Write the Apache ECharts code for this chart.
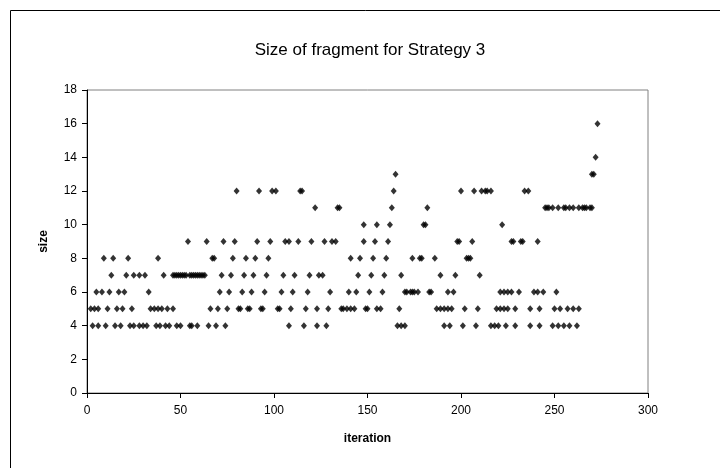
<!DOCTYPE html>
<html><head><meta charset="utf-8">
<script src="https://cdn.jsdelivr.net/npm/echarts@6/dist/echarts.min.js"></script>
<style>html,body{margin:0;padding:0;background:#fff}#c{width:720px;height:468px}</style>
</head><body><div id="c"></div>
<script>
const chartTitle = 'Size of fragment for Strategy 3';
const xAxisTitle = 'iteration';
const yAxisTitle = 'size';
const xMin = 0, xMax = 300, xStep = 50;
const yMin = 0, yMax = 18, yStep = 2;

// iterations at which each fragment size was observed
const size4 = [3, 6, 10, 15, 18, 23, 25, 28, 30, 32, 37, 39, 42, 44, 48, 50, 55, 56, 59, 65, 69, 74, 108, 116, 123, 128, 166, 168, 170, 191, 194, 201, 208, 216, 218, 220, 224, 229, 237, 242, 249, 252, 255, 258, 262];
const size5 = [2, 4, 6, 11, 16, 19, 24, 34, 36, 38, 40, 43, 46, 66, 70, 75, 81, 82, 86, 87, 93, 94, 102, 103, 109, 117, 123, 129, 136, 137, 139, 141, 143, 149, 150, 155, 157, 167, 187, 189, 191, 193, 195, 202, 209, 219, 221, 223, 225, 229, 237, 242, 250, 253, 257, 260, 263];
const size6 = [5, 8, 12, 17, 20, 33, 71, 76, 83, 88, 95, 104, 110, 118, 130, 140, 144, 151, 158, 170, 171, 173, 174, 175, 177, 183, 184, 193, 196, 221, 223, 225, 227, 231, 239, 241, 244, 251];
const size7 = [13, 21, 25, 28, 31, 41, 46, 47, 48, 49, 50, 51, 52, 53, 55, 56, 57, 58, 59, 60, 61, 62, 63, 72, 77, 84, 89, 96, 105, 111, 119, 124, 126, 145, 152, 159, 168, 189, 197, 210];
const size8 = [9, 14, 22, 38, 67, 68, 78, 85, 90, 97, 141, 146, 153, 160, 174, 178, 179, 186, 203, 204, 205];
const size9 = [54, 64, 73, 79, 91, 98, 106, 108, 113, 120, 127, 131, 133, 148, 154, 161, 198, 199, 206, 227, 228, 232, 233, 241];
const size10 = [148, 155, 162, 180, 181, 222];
const size11 = [122, 134, 135, 163, 182, 245, 246, 247, 249, 252, 255, 256, 258, 260, 263, 265, 266, 267, 269, 270];
const size12 = [80, 92, 99, 101, 114, 115, 164, 200, 207, 211, 213, 214, 216, 234, 236];
const size13 = [165, 270, 271];
const size14 = [272];
const size16 = [273];

const levels = [[4, size4], [5, size5], [6, size6], [7, size7], [8, size8], [9, size9], [10, size10], [11, size11], [12, size12], [13, size13], [14, size14], [16, size16]];
const points = [];
levels.forEach(([s, its]) => its.forEach(it => points.push([it, s])));

const font = 'Liberation Sans, Arial, sans-serif';
const chart = echarts.init(document.getElementById('c'), null, {renderer: 'canvas'});
chart.setOption({
  animation: false,
  backgroundColor: '#fff',
  title: {
    text: chartTitle, left: 365, top: 37, textAlign: 'center',
    textStyle: {fontFamily: font, fontSize: 17, fontWeight: 'normal', color: '#000'}
  },
  grid: {left: 87, right: 72, top: 90, bottom: 75, show: true, borderColor: '#808080', borderWidth: 1, backgroundColor: '#fff'},
  xAxis: {
    type: 'value', min: xMin, max: xMax, interval: xStep,
    name: xAxisTitle, nameLocation: 'middle', nameGap: 40,
    nameTextStyle: {fontFamily: font, fontSize: 12, fontWeight: 'bold', color: '#000'},
    axisLine: {show: true, onZero: false, lineStyle: {color: '#000', width: 1}},
    axisTick: {show: true, inside: false, length: 5, lineStyle: {color: '#000'}},
    axisLabel: {fontFamily: font, fontSize: 12, color: '#000', margin: 12},
    splitLine: {show: false}
  },
  yAxis: {
    type: 'value', min: yMin, max: yMax, interval: yStep,
    name: yAxisTitle, nameLocation: 'middle', nameGap: 37, nameRotate: 90,
    nameTextStyle: {fontFamily: font, fontSize: 12, fontWeight: 'bold', color: '#000'},
    axisLine: {show: true, onZero: false, lineStyle: {color: '#000', width: 1}},
    axisTick: {show: true, inside: false, length: 5, lineStyle: {color: '#000'}},
    axisLabel: {fontFamily: font, fontSize: 12, color: '#000', margin: 10},
    splitLine: {show: false}
  },
  graphic: [
    {type: 'line', shape: {x1: 10.5, y1: 10.5, x2: 10.5, y2: 468}, style: {stroke: '#000', lineWidth: 1}, silent: true},
    {type: 'line', shape: {x1: 10.5, y1: 10.5, x2: 720, y2: 10.5}, style: {stroke: '#000', lineWidth: 1}, silent: true}
  ],
  series: [{
    type: 'scatter', data: points, symbol: 'diamond', symbolSize: [6, 7],
    itemStyle: {color: '#000'}, silent: true
  }]
});
</script></body></html>
